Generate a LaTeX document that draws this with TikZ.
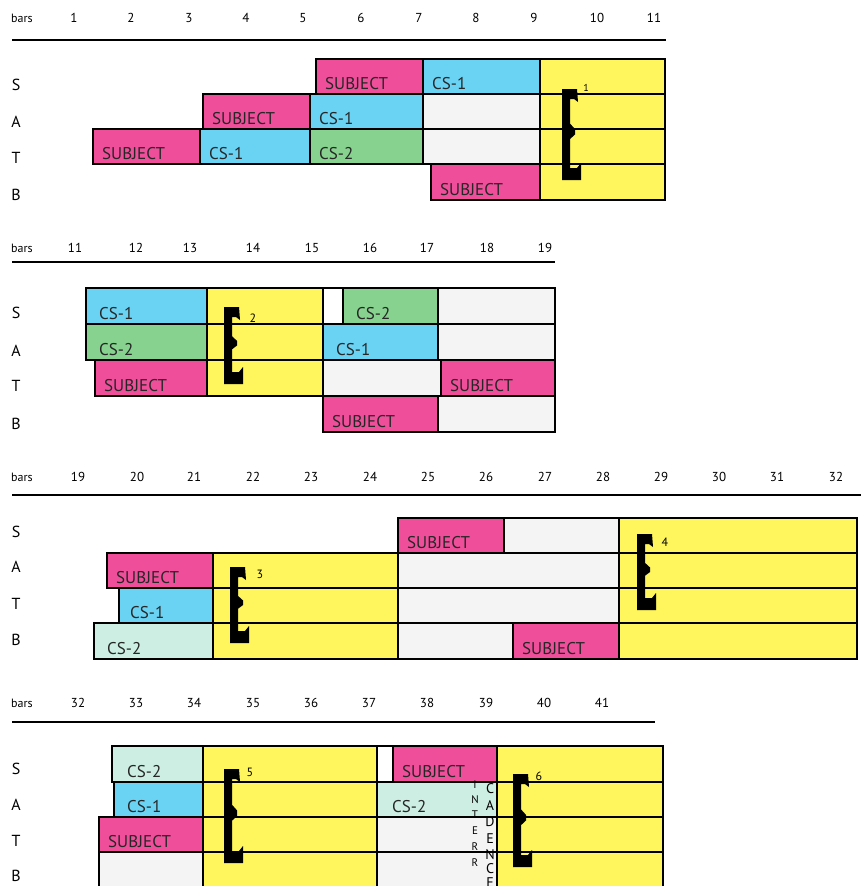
\documentclass[tikz,border=0pt]{standalone}
\usepackage{fontspec}
\setmainfont{PT Sans}
\definecolor{pinkS}{HTML}{EF4F9A}
\definecolor{cyanC}{HTML}{6AD3F4}
\definecolor{greenC}{HTML}{86D28E}
\definecolor{paleC}{HTML}{CDEFE3}
\definecolor{yel}{HTML}{FFF55C}
\definecolor{greyW}{HTML}{F4F4F4}
\tikzset{
  cellline/.style={draw=black,line width=1.5pt},
  boxtext/.style={anchor=base west,font=\fontsize{17}{17}\selectfont,inner sep=0pt,xshift=9pt,yshift=5pt,text=black!85},
  barnum/.style={font=\fontsize{13}{13}\selectfont,inner sep=0pt},
  barsword/.style={font=\fontsize{12}{12}\selectfont,inner sep=0pt},
  voice/.style={font=\fontsize{16}{16}\selectfont,inner sep=0pt},
  rulel/.style={line width=1.8pt},
  cadno/.style={font=\fontsize{12}{12}\selectfont,inner sep=0pt},
  vlet/.style={font=\fontsize{14}{14}\selectfont,inner sep=0pt},
  vlets/.style={font=\fontsize{11}{11}\selectfont,inner sep=0pt}
}
\newcommand\cb[7]{\filldraw[cellline,fill=#6] (#2,#4) rectangle (#3,#5);
  \node[boxtext] (#1) at (#2,#5) {#7};}
\newcommand\eb[5]{\filldraw[cellline,fill=#5] (#1,#3) rectangle (#2,#4);}
\newcommand\cadbrk[3]{%
  \pgfmathsetmacro\Ha{#3-#2}%
  \fill[black] (#1,#2) -- ({#1+15},#2) -- ({#1+16},{#2+13}) -- ({#1+12},{#2+10}) -- ({#1+8},{#2+10})
    -- ({#1+8},{#2+0.38*\Ha}) -- ({#1+13},{#2+0.44*\Ha}) -- ({#1+13},{#2+0.5*\Ha}) -- ({#1+8},{#2+0.55*\Ha})
    -- ({#1+8},{#3-12}) -- ({#1+15},{#3-12}) -- ({#1+19},{#3-17}) -- ({#1+19},#3) -- (#1,#3) -- cycle;}
\begin{document}
\begin{tikzpicture}[x=1pt,y=-1pt]
\useasboundingbox (0,0) rectangle (861,886);
\fill[white] (0,0) rectangle (861,886);

% ---------- Section 1 ----------
\node[barsword] (bars1) at (22,18) {bars};
\foreach \n/\xx in {1/74,2/131,3/189,4/246,5/303,6/361,7/419,8/476,9/534,10/597,11/654}
  \node[barnum] (n1-\n) at (\xx,18) {\n};
\coordinate (r1a) at (12,40); \coordinate (r1b) at (666,40);
\draw[rulel] (r1a) -- (r1b);
\foreach \v/\yy in {S/85,A/122,T/158,B/195}
  \node[voice] (v1\v) at (16,\yy) {\v};
\cb{s1s}{316}{423}{59}{94}{pinkS}{SUBJECT}
\cb{s1c}{423}{540}{59}{94}{cyanC}{CS-1}
\eb{540}{665}{59}{94}{yel}
\cb{a1s}{203}{310}{94}{129}{pinkS}{SUBJECT}
\cb{a1c}{310}{423}{94}{129}{cyanC}{CS-1}
\eb{423}{540}{94}{129}{greyW}
\eb{540}{665}{94}{129}{yel}
\cb{t1s}{93}{200}{129}{164}{pinkS}{SUBJECT}
\cb{t1c}{200}{310}{129}{164}{cyanC}{CS-1}
\cb{t1d}{310}{423}{129}{164}{greenC}{CS-2}
\eb{423}{540}{129}{164}{greyW}
\eb{540}{665}{129}{164}{yel}
\cb{b1s}{431}{540}{164}{200}{pinkS}{SUBJECT}
\eb{540}{665}{164}{200}{yel}
\cadbrk{562}{89}{180}
\node[cadno,font=\fontsize{10}{10}\selectfont] (k1) at (586,88) {1};

% ---------- Section 2 ----------
\node[barsword] (bars2) at (22,248) {bars};
\foreach \n/\xx in {11/75,12/136,13/190,14/253,15/312,16/370,17/427,18/487,19/545}
  \node[barnum] (n2-\n) at (\xx,248) {\n};
\coordinate (r2a) at (12,262); \coordinate (r2b) at (555,262);
\draw[rulel] (r2a) -- (r2b);
\foreach \v/\yy in {S/313,A/351,T/386,B/424}
  \node[voice] (v2\v) at (16,\yy) {\v};
\cb{s2c}{86}{207}{288}{324}{cyanC}{\hspace{4pt}CS-1}
\eb{207}{323}{288}{324}{yel}
\eb{323}{343}{288}{324}{white}
\cb{s2d}{343}{438}{288}{324}{greenC}{\hspace{4pt}CS-2}
\eb{438}{555}{288}{324}{greyW}
\cb{a2d}{86}{207}{324}{360}{greenC}{\hspace{4pt}CS-2}
\eb{207}{323}{324}{360}{yel}
\cb{a2c}{323}{438}{324}{360}{cyanC}{\hspace{4pt}CS-1}
\eb{438}{555}{324}{360}{greyW}
\cb{t2s}{95}{207}{360}{396}{pinkS}{SUBJECT}
\eb{207}{323}{360}{396}{yel}
\eb{323}{441}{360}{396}{greyW}
\cb{t2t}{441}{555}{360}{396}{pinkS}{SUBJECT}
\cb{b2s}{323}{438}{396}{432}{pinkS}{SUBJECT}
\eb{438}{555}{396}{432}{greyW}
\cadbrk{224}{307}{384}
\node[cadno] (k2) at (253,318) {2};

% ---------- Section 3 ----------
\node[barsword] (bars3) at (22,477) {bars};
\foreach \n/\xx in {19/78,20/137,21/194,22/253,23/311,24/370,25/428,26/486,27/545,28/603,29/661,30/719,31/777,32/836}
  \node[barnum] (n3-\n) at (\xx,477) {\n};
\coordinate (r3a) at (12,495); \coordinate (r3b) at (861,495);
\draw[rulel] (r3a) -- (r3b);
\foreach \v/\yy in {S/532,A/567,T/604,B/640}
  \node[voice] (v3\v) at (16,\yy) {\v};
\cb{s3s}{398}{504}{518}{553}{pinkS}{SUBJECT}
\eb{504}{619}{518}{553}{greyW}
\eb{619}{857}{518}{553}{yel}
\cb{a3s}{107}{213}{553}{588}{pinkS}{SUBJECT}
\eb{213}{398}{553}{588}{yel}
\eb{398}{619}{553}{588}{greyW}
\eb{619}{857}{553}{588}{yel}
\cb{t3c}{119}{213}{588}{623}{cyanC}{\hspace{2pt}CS-1}
\eb{213}{398}{588}{623}{yel}
\eb{398}{619}{588}{623}{greyW}
\eb{619}{857}{588}{623}{yel}
\cb{b3d}{94}{213}{623}{659}{paleC}{\hspace{4pt}CS-2}
\eb{213}{398}{623}{659}{yel}
\eb{398}{513}{623}{659}{greyW}
\cb{b3s}{513}{619}{623}{659}{pinkS}{SUBJECT}
\eb{619}{857}{623}{659}{yel}
\cadbrk{230}{567}{643}
\node[cadno] (k3) at (260,574) {3};
\cadbrk{637}{534}{610}
\node[cadno] (k4) at (665,542) {4};

% ---------- Section 4 ----------
\node[barsword] (bars4) at (22,703) {bars};
\foreach \n/\xx in {32/78,33/136,34/194,35/253,36/311,37/369,38/427,39/486,40/544,41/602}
  \node[barnum] (n4-\n) at (\xx,703) {\n};
\coordinate (r4a) at (12,722); \coordinate (r4b) at (655,722);
\draw[rulel] (r4a) -- (r4b);
\foreach \v/\yy in {S/769,A/805,T/841,B/876}
  \node[voice] (v4\v) at (16,\yy) {\v};
\cb{s4d}{112}{203}{746}{782}{paleC}{\hspace{6pt}CS-2}
\eb{203}{377}{746}{782}{yel}
\eb{377}{393}{746}{782}{white}
\cb{s4s}{393}{497}{746}{782}{pinkS}{SUBJECT}
\eb{497}{663}{746}{782}{yel}
\cb{a4c}{114}{203}{782}{817}{cyanC}{\hspace{4pt}CS-1}
\eb{203}{377}{782}{817}{yel}
\cb{a4d}{377}{497}{782}{817}{paleC}{\hspace{6pt}CS-2}
\eb{497}{663}{782}{817}{yel}
\cb{t4s}{99}{203}{817}{852}{pinkS}{SUBJECT}
\eb{203}{377}{817}{852}{yel}
\eb{377}{497}{817}{852}{greyW}
\eb{497}{663}{817}{852}{yel}
\eb{99}{203}{852}{892}{greyW}
\eb{203}{377}{852}{892}{yel}
\eb{377}{497}{852}{892}{greyW}
\eb{497}{663}{852}{892}{yel}
\cadbrk{224}{769}{863}
\node[cadno] (k5) at (250,772) {5};
\cadbrk{513}{774}{867}
\node[cadno] (k6) at (539,776) {6};
% vertical words
\foreach \l/\yy [count=\i] in {I/785,N/800,T/815,E/831,R/847,R/863}
  \node[vlets] (ir\i) at (475,\yy) {\l};
\foreach \l/\yy [count=\i] in {C/789,A/806,D/822,E/839,N/855,C/869,E/883}
  \node[vlet] (cd\i) at (490,\yy) {\l};
\end{tikzpicture}
\end{document}
